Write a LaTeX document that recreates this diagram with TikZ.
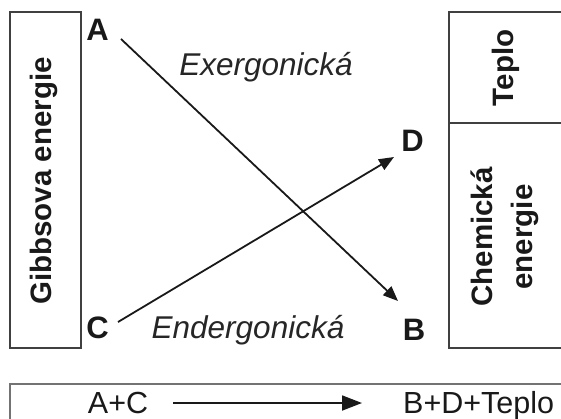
\documentclass[tikz,border=0pt]{standalone}
\usepackage{fontspec}
\setmainfont{Liberation Sans}
\usetikzlibrary{arrows.meta}
\begin{document}
\begin{tikzpicture}[x=1pt,y=-1pt,
  lbl/.style={font=\fontsize{29.5}{32}\selectfont\bfseries, inner sep=0pt, text=black!90},
  letter/.style={font=\fontsize{31}{32}\selectfont\bfseries, inner sep=0pt, text=black!90},
  itl/.style={font=\fontsize{31.5}{32}\selectfont\itshape, inner sep=0pt, text=black!85},
  reg/.style={font=\fontsize{30.5}{32}\selectfont, inner sep=0pt, text=black!90},
  boxline/.style={draw=black!75, line width=1.3pt},
  arr/.style={line width=1.8pt, black!90, -{Triangle[length=15pt,width=12pt]}}]
\useasboundingbox (0,0) rectangle (561,419);
% left box
\draw[boxline] (10,12) rectangle (81,348);
\node[lbl, rotate=90] (gibbs) at (44,181) {Gibbsova energie};
% right box
\draw[boxline] (565,12) -- (449,12) -- (449,348) -- (565,348);
\draw[boxline] (449,123) -- (565,123);
\node[lbl, rotate=90] (teplo) at (506,68) {Teplo};
\node[lbl, rotate=90, align=center, font=\fontsize{29.5}{40}\selectfont\bfseries] (chem) at (505,237) {Chemická\\energie};
% labels
\node[letter, anchor=base] (A) at (97.5,41) {A};
\node[letter, anchor=base] (C) at (97.5,338) {C};
\node[letter, anchor=base] (B) at (414,340) {B};
\node[letter, anchor=base] (D) at (412.5,152) {D};
\node[itl, anchor=base] (exer) at (266,76) {Exergonická};
\node[itl, anchor=base] (ender) at (248,338) {Endergonická};
\coordinate (a0) at (121,39);
\coordinate (b0) at (398,301);
\coordinate (c0) at (118,322);
\coordinate (d0) at (394,157);
\draw[arr] (a0) -- (b0);
\draw[arr] (c0) -- (d0);
% bottom box
\draw[draw=black!55, line width=1.3pt] (10,425) -- (10,384) -- (565,384);
\node[reg, anchor=base] (ac) at (118,413.5) {A+C};
\node[reg, anchor=base west] (bdt) at (403,413.5) {B+D+Teplo};
\draw[line width=1.8pt, black!90, -{Triangle[length=20pt,width=15pt]}] (173,403) -- (362,403);
\end{tikzpicture}
\end{document}
